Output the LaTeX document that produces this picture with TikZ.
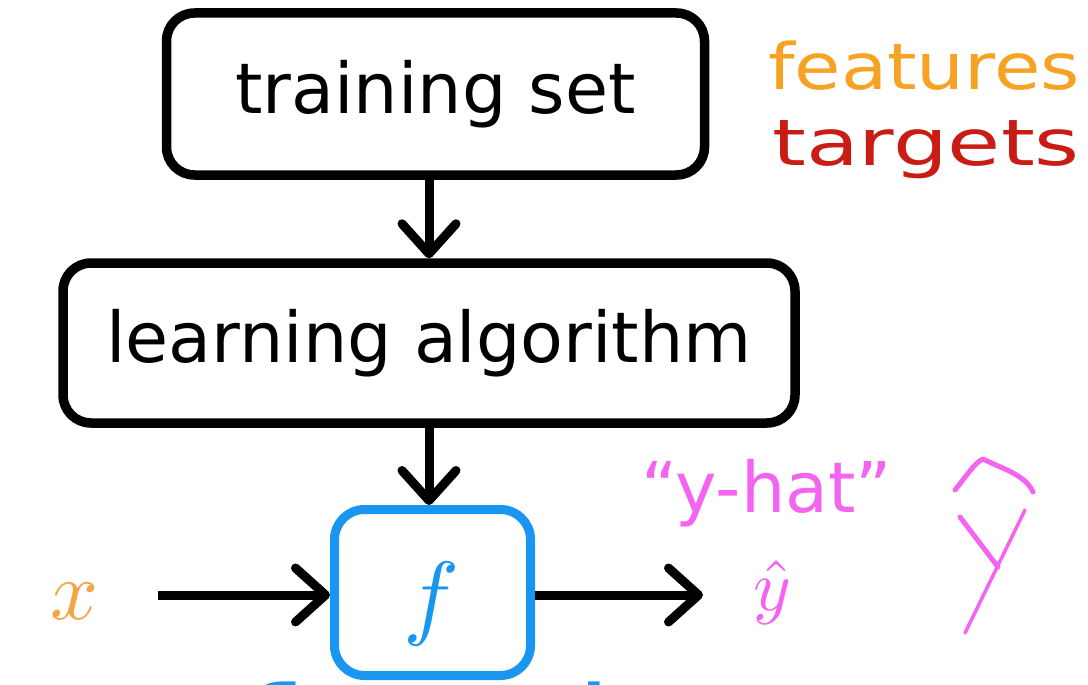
\documentclass[tikz,border=0pt]{standalone}
\usepackage{fontspec}
\setmainfont{DejaVu Sans}
\usetikzlibrary{arrows.meta}
\definecolor{boxblue}{RGB}{25,150,240}
\definecolor{featc}{RGB}{247,162,35}
\definecolor{targc}{RGB}{200,28,20}
\definecolor{xorange}{RGB}{245,165,70}
\definecolor{pinkc}{RGB}{245,100,240}
\tikzset{
  flowbox/.style={draw=black, line width=9.5pt, rounded corners=28pt, fill=white,
    font=\fontsize{70}{80}\selectfont, inner sep=0pt},
  fbox/.style={draw=boxblue, line width=9pt, rounded corners=30pt, inner sep=0pt},
  arr/.style={line width=9pt, -{Straight Barb[length=30pt,width=54pt,round]}},
  hand/.style={line width=5pt, pinkc, line cap=round, line join=round},
  lbl/.style={inner sep=0pt, anchor=base}
}
\begin{document}
\begin{tikzpicture}[x=1pt,y=-1pt]
\clip (0,0) rectangle (1088,685);
\fill[white] (0,0) rectangle (1088,685);
% boxes
\node[flowbox, minimum width=538pt, minimum height=162pt] (train) at (435.5,94) {\raisebox{-9pt}{training set}};
\node[flowbox, minimum width=732pt, minimum height=160pt] (learn) at (429,343) {\raisebox{-4pt}{learning algorithm}};
\node[fbox, minimum width=196pt, minimum height=166pt] (f) at (432.5,592.5) {};
\node[boxblue, inner sep=0pt] (fl) at (432,604) {\scalebox{9.4}{$f$}};
% inputs / outputs
\node[xorange, inner sep=0pt] (x) at (75,601) {\scalebox{8.4}{$x$}};
\node[pinkc, inner sep=0pt] (yhat) at (772,592) {\scalebox{7.2}{$\hat{y}$}};
\coordinate (xs) at (158,595);
\coordinate (ye) at (703,595);
% arrows
\draw[arr] (train.south -| learn.north) -- (learn.north);
\draw[arr] (learn.south) -- (f.north -| learn.south);
\draw[arr] (xs) -- (xs -| f.west);
\draw[arr] (xs -| f.east) -- (ye);
% labels
\node[lbl, featc, font=\fontsize{64}{70}\selectfont] (feat) at (924,90) {\scalebox{1.18}[1]{features}};
\node[lbl, targc, font=\fontsize{64}{70}\selectfont] (targ) at (926,165) {\scalebox{1.35}[1]{targets}};
\node[lbl, pinkc, font=\fontsize{70}{80}\selectfont] (yhatword) at (767,512) {“y-hat”};
\node[lbl, boxblue, font=\fontsize{64}{70}\selectfont] (func) at (510,730) {\scalebox{2}[1]{function}};
% handwritten y-hat
\coordinate (h1) at (955,490);
\coordinate (h2) at (983,459);
\coordinate (h3) at (1033,492);
\draw[hand] (h1) .. controls (965,478) and (975,462) .. (h2) .. controls (1000,468) and (1025,474) .. (h3);
\coordinate (y1) at (960,517);
\coordinate (y2) at (998,567);
\coordinate (y3) at (1025,510);
\coordinate (y4) at (965,633);
\draw[hand] (y1) -- (y2);
\draw[hand, line width=3.5pt] (y3) -- (y4);
\end{tikzpicture}
\end{document}
